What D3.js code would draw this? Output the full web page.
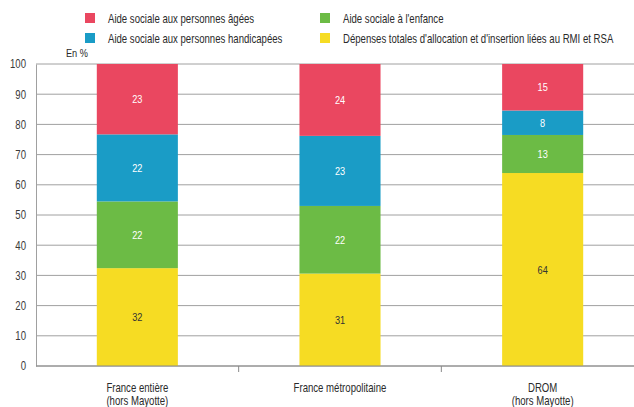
<!DOCTYPE html>
<html>
<head>
<meta charset="utf-8">
<script src="https://cdn.jsdelivr.net/npm/d3@7"></script>
<style>
body { margin: 0; background: #fff; }
svg text { font-family: "Liberation Sans", Arial, sans-serif; }
</style>
</head>
<body>
<div class="container"></div>
<script>
var categories = [["France entière", "(hors Mayotte)"], ["France métropolitaine"], ["DROM", "(hors Mayotte)"]];
var seriesNames = ["Dépenses totales d'allocation et d'insertion liées au RMI et RSA", "Aide sociale à l'enfance", "Aide sociale aux personnes handicapées", "Aide sociale aux personnes âgées"];
var rmiRsa = [32.4, 30.6, 63.9];
var enfance = [22.1, 22.4, 12.6];
var handicap = [22.2, 23.2, 8.1];
var agees = [23.3, 23.8, 15.4];
var yTicks = [0, 10, 20, 30, 40, 50, 60, 70, 80, 90, 100];
var colors = ["#f6dc23", "#6cbb45", "#1a9cc6", "#ea4760"];
var textColors = ["#333", "#fff", "#fff", "#fff"];

var width = 634, height = 407;
var condense = 0.8;
var svg = d3.select('.container').append('svg')
	.attr('width', width)
	.attr('height', height);

var x = d3.scaleBand().domain(d3.range(categories.length))
	.range([36, 644]).paddingInner(0.6).paddingOuter(0.3);
var y = d3.scaleLinear().domain([0, 100]).range([366, 64]);

// grid
svg.append('g').selectAll('line').data(yTicks).enter().append('line')
	.attr('x1', 36).attr('x2', width)
	.attr('y1', function(d){ return y(d); })
	.attr('y2', function(d){ return y(d); })
	.attr('stroke', '#a0a0a0').attr('stroke-width', 1);

var yAxis = svg.append('g').attr('transform', 'translate(36,0)')
	.call(d3.axisLeft(y).tickValues(yTicks).tickSize(0).tickPadding(10));
yAxis.select('.domain').attr('stroke', '#a0a0a0');
yAxis.selectAll('text').attr('font-size', 12).attr('fill', '#3a3a3a');

svg.append('text').attr('x', 66).attr('y', 57)
	.attr('font-size', 11.5).attr('fill', '#2a2a2a').text('En %');

// stacked bars
var rows = categories.map(function(c, i){
	return [rmiRsa[i], enfance[i], handicap[i], agees[i]];
});
var stack = d3.stack().keys([0, 1, 2, 3]);
var layers = stack(rows);

var g = svg.selectAll('.layer').data(layers).enter().append('g')
	.attr('fill', function(d, i){ return colors[i]; });
g.selectAll('rect').data(function(d){ return d; }).enter().append('rect')
	.attr('x', function(d, i){ return x(i); })
	.attr('width', x.bandwidth())
	.attr('y', function(d){ return y(d[1]); })
	.attr('height', function(d){ return y(d[0]) - y(d[1]); });

g.selectAll('text').data(function(d, k){
		return d.map(function(v){ return {v: v, k: k}; });
	}).enter().append('text')
	.attr('x', function(d, i){ return x(i) + x.bandwidth() / 2; })
	.attr('y', function(d){ return y((d.v[0] + d.v[1]) / 2) + 4; })
	.attr('text-anchor', 'middle')
	.attr('font-size', 11.5)
	.attr('fill', function(d){ return textColors[d.k]; })
	.text(function(d){ return Math.round(d.v[1] - d.v[0]); });

// x axis
svg.append('line').attr('x1', 36).attr('x2', width)
	.attr('y1', 366).attr('y2', 366).attr('stroke', '#8a8a8a');
svg.selectAll('.sep').data(d3.range(1, categories.length)).enter().append('line')
	.attr('x1', function(i){ return x(i) - x.step() * x.paddingInner() / 2; })
	.attr('x2', function(i){ return x(i) - x.step() * x.paddingInner() / 2; })
	.attr('y1', 366).attr('y2', 372).attr('stroke', '#8a8a8a');

var cat = svg.selectAll('.cat').data(categories).enter().append('text')
	.attr('text-anchor', 'middle')
	.attr('font-size', 12).attr('fill', '#2a2a2a')
	.attr('x', function(d, i){ return x(i) + x.bandwidth() / 2; })
	.attr('y', 392);
cat.selectAll('tspan').data(function(d){ return d; }).enter().append('tspan')
	.attr('x', function(){ return this.parentNode.getAttribute('x'); })
	.attr('dy', function(d, i){ return i ? 13 : 0; })
	.text(function(d){ return d; });

// legend
var legendOrder = [3, 1, 2, 0];
var lg = svg.selectAll('.leg').data(legendOrder).enter().append('g')
	.attr('transform', function(d, i){
		return 'translate(' + (i % 2 ? 320 : 85) + ',' + (i < 2 ? 13 : 33) + ')';
	});
lg.append('rect').attr('width', 10).attr('height', 10)
	.attr('fill', function(d){ return colors[d]; });
lg.append('text').attr('x', 23).attr('y', 9.5)
	.attr('font-size', 12).attr('fill', '#2a2a2a')
	.text(function(d){ return seriesNames[d]; });

// narrow the type (the original uses a condensed face): squeeze around each text's own x
svg.selectAll('text').each(function(){
	var ax = +(this.getAttribute('x') || 0);
	d3.select(this).attr('transform',
		'translate(' + ax + ',0) scale(' + condense + ',1) translate(' + (-ax) + ',0)');
});
</script>
</body>
</html>
